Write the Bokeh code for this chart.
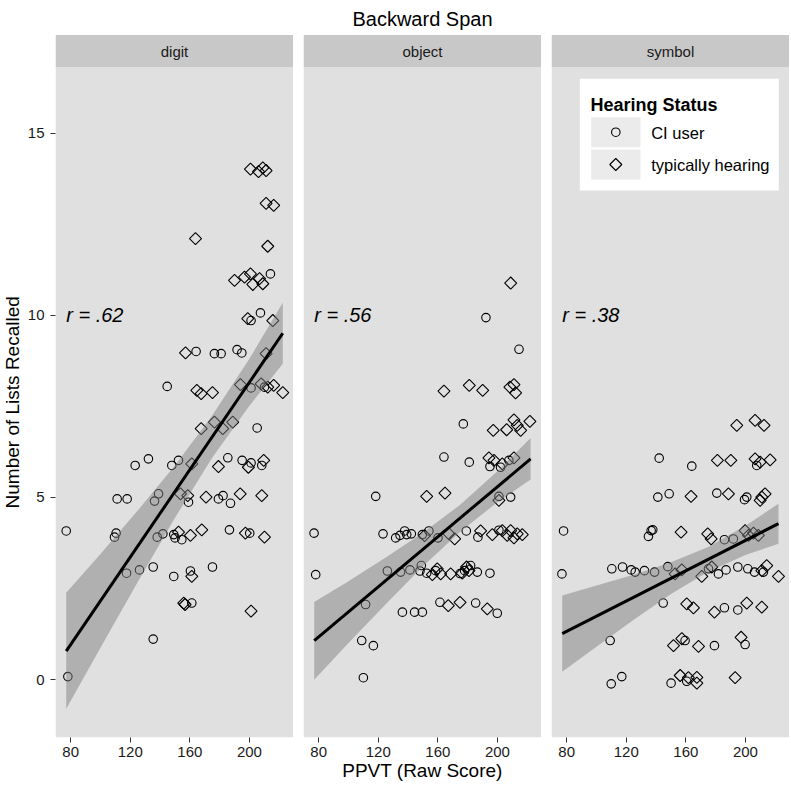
import math
from bokeh.plotting import figure
from bokeh.models import Range1d, FixedTicker
from bokeh.layouts import row
from bokeh.core.properties import value
from bokeh.embed import file_html
from bokeh.resources import INLINE

# ------------------------------------------------------------------ data
title_text = "Backward Span"
facets = ["digit", "object", "symbol"]
r_labels = ["r = .62", "r = .56", "r = .38"]
r_x, r_y = 77.0, 10.0
x_ticks = [80, 120, 160, 200]
y_ticks = [0, 5, 10, 15]
x_title = "PPVT (Raw Score)"
y_title = "Number of Lists Recalled"
legend_title = "Hearing Status"
legend_labels = ["CI user", "typically hearing"]

# digit – CI users (circles)
digit_ci_x = [144.8, 201.1, 210.1, 205.2, 123.3, 132.2, 147.9, 152.4, 185.5, 195.1, 201.1, 208.3,
              111.2, 117.9, 139.0, 136.3, 159.1, 179.2, 182.3, 187.3, 77.0, 110.5, 109.4, 138.1,
              141.9, 149.2, 150.1, 154.6, 186.6, 200.2, 117.5, 126.2, 135.4, 149.2, 160.4, 175.2,
              161.3, 135.4, 78.1, 214.1, 201.1, 207.4, 164.2, 176.5, 181.0, 191.7, 194.9]
digit_ci_y = [8.05, 8.01, 8.03, 6.91, 5.88, 6.06, 5.88, 6.02, 6.09, 6.02, 5.95, 5.88,
              4.96, 4.96, 5.10, 4.90, 4.87, 4.96, 5.05, 4.84, 4.08, 4.02, 3.91, 3.91,
              4.00, 3.98, 3.89, 3.84, 4.11, 4.02, 2.92, 3.01, 3.09, 2.83, 2.98, 3.09,
              2.10, 1.11, 0.08, 11.14, 9.86, 10.07, 9.01, 8.95, 8.95, 9.06, 8.97]
# digit – typically hearing (diamonds)
digit_th_x = [200.7, 206.1, 209.0, 211.2, 211.2, 216.3, 163.8, 212.3, 190.0, 196.7, 200.7, 202.3,
              206.8, 209.0, 198.9, 215.7, 157.1, 211.2, 164.7, 167.6, 175.2, 194.0, 207.9, 212.3,
              216.3, 222.4, 176.5, 182.1, 188.8, 167.6, 161.3, 179.2, 199.3, 209.6, 153.7, 158.6,
              170.9, 193.8, 208.3, 152.4, 160.4, 168.0, 197.3, 210.1, 161.3, 155.9, 156.8, 201.1]
digit_th_y = [14.02, 13.95, 14.05, 13.98, 13.08, 13.02, 12.11, 11.90, 10.96, 11.05, 11.14, 10.85,
              11.01, 10.87, 9.91, 9.86, 8.97, 8.95, 7.94, 7.85, 7.88, 8.10, 8.12, 8.03,
              8.08, 7.88, 7.07, 6.89, 7.07, 6.89, 5.92, 5.85, 5.83, 6.02, 5.10, 5.05,
              5.01, 5.10, 5.05, 4.05, 3.96, 4.11, 4.02, 3.91, 2.83, 2.10, 2.06, 1.88]

# object – CI users
object_ci_x = [192.3, 214.5, 177.1, 164.1, 181.1, 195.0, 202.1, 207.7, 118.3, 201.0, 208.9,
               76.9, 123.2, 131.7, 134.6, 137.7, 139.1, 142.2, 149.6, 154.0, 160.1, 179.1, 186.9, 201.0,
               78.0, 126.1, 135.0, 141.3, 148.0, 148.9, 152.5, 158.5, 174.9, 178.0, 182.0, 186.5, 195.0,
               111.5, 136.2, 144.4, 149.6, 161.4, 185.4, 199.9, 108.9, 116.7, 110.0]
object_ci_y = [9.94, 9.07, 7.02, 6.11, 5.97, 5.85, 5.83, 6.02, 5.03, 5.03, 5.01,
               4.02, 4.00, 3.89, 3.96, 4.08, 3.98, 4.00, 3.98, 4.08, 3.89, 4.08, 3.91, 4.10,
               2.88, 2.98, 2.95, 3.01, 2.98, 3.13, 2.92, 2.99, 2.91, 2.99, 3.13, 2.95, 2.92,
               2.06, 1.85, 1.85, 1.85, 2.12, 2.10, 1.82, 1.07, 0.93, 0.05]
# object – typically hearing
object_th_x = [208.9, 164.1, 181.1, 190.1, 208.4, 211.1, 212.2, 197.2, 206.2, 211.1, 213.3, 215.6,
               221.8, 194.3, 197.7, 203.3, 211.1, 152.5, 164.8, 201.0,
               151.1, 167.5, 171.3, 188.7, 196.6, 203.3, 206.6, 208.9, 211.1, 213.3, 216.7,
               156.3, 159.6, 161.9, 168.6, 176.4, 179.3, 180.9, 167.0, 174.9, 193.2]
object_th_y = [10.89, 7.92, 8.08, 7.94, 8.03, 8.10, 7.87, 6.84, 6.86, 7.13, 6.98, 6.84,
               7.09, 6.09, 6.02, 5.92, 6.09, 5.03, 5.12, 4.92,
               3.95, 4.00, 3.86, 4.08, 3.98, 4.09, 3.96, 4.09, 3.89, 4.00, 3.98,
               2.88, 3.04, 2.90, 2.90, 2.92, 3.09, 2.99, 2.03, 2.12, 1.94]

# symbol – CI users
symbol_ci_x = [142.1, 164.0, 207.6, 141.2, 148.8, 180.8, 199.4, 200.9, 77.9, 136.7, 137.8, 134.9,
               185.9, 191.9, 76.8, 110.3, 117.5, 123.3, 126.0, 132.2, 139.0, 147.9, 175.2, 181.9,
               187.0, 194.9, 201.6, 206.1, 212.1, 144.8, 185.9, 194.9, 109.2, 159.5, 179.2, 199.8,
               109.9, 117.0, 150.1, 160.6]
symbol_ci_y = [6.08, 5.86, 5.88, 5.01, 5.10, 5.12, 4.94, 5.01, 4.08, 4.09, 4.11, 3.93,
               3.84, 3.86, 2.90, 3.04, 3.09, 3.01, 2.95, 2.99, 2.95, 3.10, 3.04, 2.90,
               3.01, 3.09, 3.04, 2.95, 2.95, 2.10, 1.97, 1.91, 1.07, 1.07, 0.93, 0.96,
               -0.12, 0.08, -0.10, -0.05]
# symbol – typically hearing
symbol_th_x = [194.2, 206.5, 212.5, 181.2, 190.2, 206.5, 209.9, 216.6, 163.5, 188.6, 211.0, 213.2,
               209.9, 156.8, 174.7, 177.0, 199.8, 202.1, 205.4, 208.7, 152.8, 157.3, 170.7, 177.4,
               211.0, 214.3, 222.2, 160.6, 165.1, 179.2, 200.9, 211.0, 151.7, 157.3, 168.5, 197.1,
               156.2, 161.7, 167.4, 167.4, 193.1]
symbol_th_y = [6.98, 7.12, 6.98, 6.02, 6.02, 6.06, 5.97, 6.03, 5.03, 5.10, 5.01, 5.10,
               4.92, 4.05, 4.00, 3.86, 4.09, 3.96, 4.02, 3.96, 2.90, 3.01, 2.83, 3.09,
               2.99, 3.13, 2.83, 2.08, 1.97, 1.85, 2.10, 1.99, 0.93, 1.12, 0.91, 1.16,
               0.11, 0.05, 0.06, -0.10, 0.05]

# linear fit lines and their confidence bands
digit_line_x = [77.0, 222.4]
digit_line_y = [0.78, 9.51]
digit_band_x = [77.0, 100, 125, 150, 175, 200, 222.4]
digit_band_lo = [-0.80, 0.87, 2.68, 4.44, 6.09, 7.52, 8.67]
digit_band_hi = [2.38, 3.45, 4.64, 5.88, 7.25, 8.81, 10.35]

object_line_x = [77.0, 222.3]
object_line_y = [1.07, 6.06]
object_band_x = [77.0, 100, 125, 150, 175, 200, 222.3]
object_band_lo = [-0.01, 1.00, 2.07, 3.11, 4.06, 4.87, 5.49]
object_band_hi = [2.13, 2.70, 3.35, 4.03, 4.80, 5.72, 6.63]

symbol_line_x = [77.0, 222.2]
symbol_line_y = [1.26, 4.28]
symbol_band_x = [77.0, 100, 125, 150, 175, 200, 222.2]
symbol_band_lo = [0.21, 0.90, 1.64, 2.35, 2.96, 3.42, 3.73]
symbol_band_hi = [2.31, 2.58, 2.88, 3.22, 3.64, 4.22, 4.83]

# ------------------------------------------------------------------ style / layout
FONT = "Liberation Sans"
X0, X1 = 69.8, 229.6
Y0, Y1 = -1.593, 18.65
PANEL_TOP, STRIP_TOP = 16.82, 17.70
FW, FH = 238, 737
LABEL_W = 24
PANEL_BG, STRIP_BG, KEY_BG = "#E0E0E0", "#C8C8C8", "#EBEBEB"
BAND_COLOR = "#7F7F7F"
TEXT_COLOR = "#1A1A1A"


def fx(px):
    """frame pixel offset (from left) -> data x"""
    return X0 + px / FW * (X1 - X0)


def fy(py):
    """frame pixel offset (from top) -> data y"""
    return Y1 - py / FH * (Y1 - Y0)


def add_points(p, xs, ys, kind):
    if kind == "circle":
        p.scatter(xs, ys, marker="circle", size=8.5, fill_color=None,
                  line_color="black", line_width=1.1)
    else:
        p.scatter(xs, ys, marker="square", angle=math.pi / 4, size=8.5,
                  fill_color=None, line_color="black", line_width=1.1)


def style_axis(ax, standoff):
    ax.axis_line_color = None
    ax.major_tick_out = 5
    ax.major_tick_in = 0
    ax.minor_tick_line_color = None
    ax.major_tick_line_color = "#333333"
    ax.major_label_text_font = FONT
    ax.major_label_text_font_size = "15px"
    ax.major_label_text_color = TEXT_COLOR
    ax.major_label_standoff = standoff
    ax.axis_label_text_font = FONT
    ax.axis_label_text_font_size = "19px"
    ax.axis_label_text_font_style = "normal"
    ax.axis_label_text_color = "black"
    ax.axis_label_standoff = 0


def make_panel(i, ci_x, ci_y, th_x, th_y, bx, blo, bhi, lx, ly, first):
    p = figure(frame_width=FW, frame_height=FH,
               x_range=Range1d(X0, X1), y_range=Range1d(Y0, Y1),
               output_backend="svg", toolbar_location=None,
               min_border_left=31 if first else 10, min_border_right=0,
               min_border_top=0, min_border_bottom=40,
               y_axis_location="left" if first else None,
               background_fill_color="white", border_fill_color="white",
               outline_line_color=None)
    p.grid.visible = False
    # panel background and strip
    p.quad(left=[X0], right=[X1], bottom=[Y0], top=[PANEL_TOP],
           fill_color=PANEL_BG, line_color=None)
    p.quad(left=[X0], right=[X1], bottom=[PANEL_TOP], top=[STRIP_TOP],
           fill_color=STRIP_BG, line_color=None)
    p.text(x=[(X0 + X1) / 2], y=[(PANEL_TOP + STRIP_TOP) / 2], text=[facets[i]],
           text_align="center", text_baseline="middle",
           text_font=value(FONT), text_font_size="15px", text_color=TEXT_COLOR)
    # points
    add_points(p, ci_x, ci_y, "circle")
    add_points(p, th_x, th_y, "diamond")
    # smooth
    p.varea(x=bx, y1=blo, y2=bhi, fill_color=BAND_COLOR, fill_alpha=0.5)
    p.line(lx, ly, line_color="black", line_width=3)
    # r annotation
    p.text(x=[r_x], y=[r_y], text=[r_labels[i]], text_align="left",
           text_baseline="middle", text_font=value(FONT),
           text_font_style="italic", text_font_size="20px", text_color="black")
    # axes
    for ax in p.xaxis:
        ax.ticker = FixedTicker(ticks=x_ticks)
        style_axis(ax, 4)
    if first:
        for ax in p.yaxis:
            ax.ticker = FixedTicker(ticks=y_ticks)
            style_axis(ax, 6)
    return p


# narrow strip holding the y-axis title, centred on the panel area
ylab = figure(frame_width=LABEL_W, frame_height=FH,
              x_range=Range1d(0, 1), y_range=Range1d(Y0, Y1),
              output_backend="svg", toolbar_location=None,
              min_border_left=0, min_border_right=0, min_border_top=0, min_border_bottom=40,
              x_axis_location=None, y_axis_location=None,
              background_fill_color="white", border_fill_color="white",
              outline_line_color=None)
ylab.grid.visible = False
ylab.text(x=[0.5], y=[(Y0 + PANEL_TOP) / 2], text=[y_title], angle=math.pi / 2,
          text_align="center", text_baseline="middle", text_font=value(FONT),
          text_font_size="19px", text_color="black")

p1 = make_panel(0, digit_ci_x, digit_ci_y, digit_th_x, digit_th_y,
                digit_band_x, digit_band_lo, digit_band_hi, digit_line_x, digit_line_y, True)
p2 = make_panel(1, object_ci_x, object_ci_y, object_th_x, object_th_y,
                object_band_x, object_band_lo, object_band_hi, object_line_x, object_line_y, False)
p3 = make_panel(2, symbol_ci_x, symbol_ci_y, symbol_th_x, symbol_th_y,
                symbol_band_x, symbol_band_lo, symbol_band_hi, symbol_line_x, symbol_line_y, False)

# x axis title under the middle panel (its frame is centred on the panel block)
p2.xaxis.axis_label = x_title

# overall title, centred over the panel block
p2.text(x=[(X0 + X1) / 2], y=[fy(18)], text=[title_text], text_align="center",
        text_baseline="alphabetic", text_font=value(FONT), text_font_size="20px",
        text_color="black")

# legend inside the right panel (positions in frame pixels)
p3.quad(left=[fx(28.3)], right=[fx(227.3)], top=[fy(78.3)], bottom=[fy(190.0)],
        fill_color="white", line_color=None)
p3.text(x=[fx(39.0)], y=[fy(104.3)], text=[legend_title], text_align="left",
        text_baseline="alphabetic", text_font=value(FONT), text_font_style="bold",
        text_font_size="18px", text_color="black")
key_tops = [116.7, 149.0]
key_h = 30.0
p3.quad(left=[fx(39.7)] * 2, right=[fx(89.0)] * 2,
        top=[fy(t) for t in key_tops], bottom=[fy(t + key_h) for t in key_tops],
        fill_color=KEY_BG, line_color=None)
add_points(p3, [fx(64.3)], [fy(key_tops[0] + key_h / 2)], "circle")
add_points(p3, [fx(64.3)], [fy(key_tops[1] + key_h / 2)], "diamond")
p3.text(x=[fx(99.7)] * 2, y=[fy(t + key_h / 2 + 0.8) for t in key_tops], text=legend_labels,
        text_align="left", text_baseline="middle", text_font=value(FONT),
        text_font_size="16.5px", text_color="black")

layout = row(ylab, p1, p2, p3)
open("out.html", "w").write(file_html(layout, INLINE, title_text))
